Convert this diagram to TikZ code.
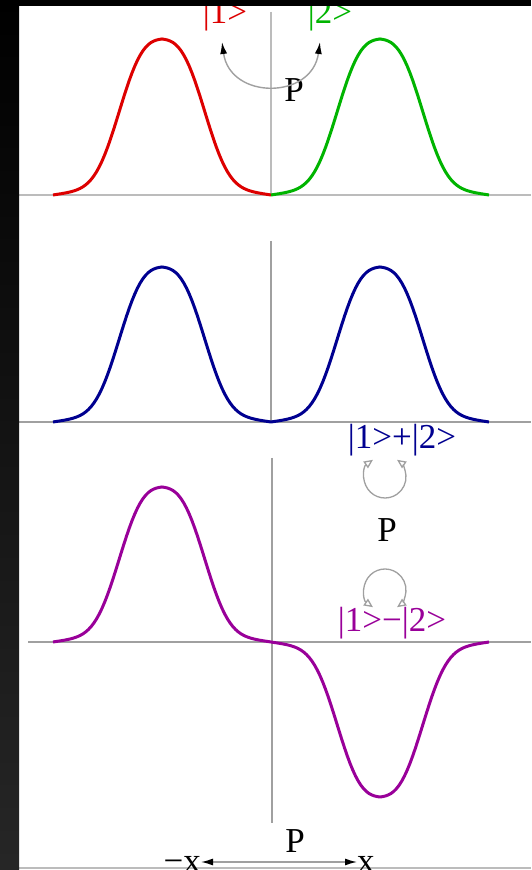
\documentclass[tikz,border=0pt]{standalone}
\usepackage{fontspec}
\setmainfont{Liberation Serif}
\usetikzlibrary{arrows.meta}

\definecolor{ketred}{HTML}{DD0000}
\definecolor{ketgreen}{HTML}{00B400}
\definecolor{ketblue}{HTML}{000090}
\definecolor{ketpurple}{HTML}{990099}
\definecolor{axisgray}{HTML}{A0A0A0}

\begin{document}
\begin{tikzpicture}[x=1pt, y=1pt, >=Latex,
    axis/.style={axisgray, line width=1.5pt},
    wave/.style={line width=3pt, line join=round},
    lbl/.style={inner sep=0pt, anchor=base, font=\fontsize{35}{38}\selectfont},
    swap/.style={axisgray, line width=1.4pt, {Latex[black,length=12pt,width=7pt]}-{Latex[black,length=12pt,width=7pt]}},
    loop/.style={axisgray, line width=1.3pt, {Triangle[open,length=9pt,width=8pt]}-{Triangle[open,length=9pt,width=8pt]}},
    declare function={lobe(\u)=0.9*exp(-1*pow((abs(\u)+0.0001)/0.46,2.8))+0.1*(1-abs(\u));}]
    \useasboundingbox (0,0) rectangle (531,870);
    \fill[white] (0,0) rectangle (531,870);

    % axes
    \draw[axis, axisgray!70] (19,675) -- (531,675);
    \draw[axis, axisgray!70] (271,858) -- (271,675);
    \draw[axis] (19,448) -- (531,448);
    \draw[axis] (271,629) -- (271,448);
    \draw[axis] (28,228) -- (531,228);
    \draw[axis] (272,412) -- (272,47);
    \draw[axis, axisgray!70] (19,2) -- (531,2);

    % states
    \draw[wave, ketred] plot[domain=-1:1, samples=81] ({162+109*\x},{675+156*lobe(\x)});
    \draw[wave, ketgreen] plot[domain=-1:1, samples=81] ({380+109*\x},{675+156*lobe(\x)});
    \draw[wave, ketblue] plot[domain=-1:1, samples=81] ({162+109*\x},{448+155*lobe(\x)});
    \draw[wave, ketblue] plot[domain=-1:1, samples=81] ({380+109*\x},{448+155*lobe(\x)});
    \draw[wave, ketpurple] plot[domain=-1:1, samples=81] ({162+109*\x},{228+155*lobe(\x)});
    \draw[wave, ketpurple] plot[domain=-1:1, samples=81] ({380+109*\x},{228-155*lobe(\x)});

    % labels
    \node[lbl, ketred] (ketone) at (225,846) {|1>};
    \node[lbl, ketgreen] (kettwo) at (330,846) {|2>};
    \node[lbl] (ptop) at (294,768) {P};
    \node[lbl, ketblue] (ketsum) at (402,421) {|1>+|2>};
    \node[lbl] (pmid) at (387,328) {P};
    \node[lbl, ketpurple] (ketdiff) at (392,238) {|1>−|2>};
    \node[lbl] (pbot) at (295,17) {P};
    \node[lbl, anchor=base east] (xminus) at (201,-2) {−x};
    \node[lbl, anchor=base west] (xplus) at (357,-2) {x};

    % parity arrows
    \coordinate (swapl) at (222,828);
    \coordinate (swapr) at (320,828);
    \draw[swap] (swapl) .. controls (230,770) and (312,770) .. (swapr);
    \coordinate (loopup) at ({385+21*cos(125)},{393+21*sin(125)});
    \draw[loop] (loopup) arc[start angle=125, end angle=415, radius=21];
    \coordinate (loopdn) at ({385+21*cos(235)},{280+21*sin(235)});
    \draw[loop] (loopdn) arc[start angle=235, end angle=-55, radius=21];
    \coordinate (xl) at (xminus.east |- 0,8);
    \coordinate (xr) at (xplus.west |- 0,8);
    \draw[swap] (xl) -- (xr);

    % frame
    \fill[black] (0,864) rectangle (531,870);
    \shade[top color=black, bottom color=black!85] (0,0) rectangle (19,870);
\end{tikzpicture}
\end{document}
